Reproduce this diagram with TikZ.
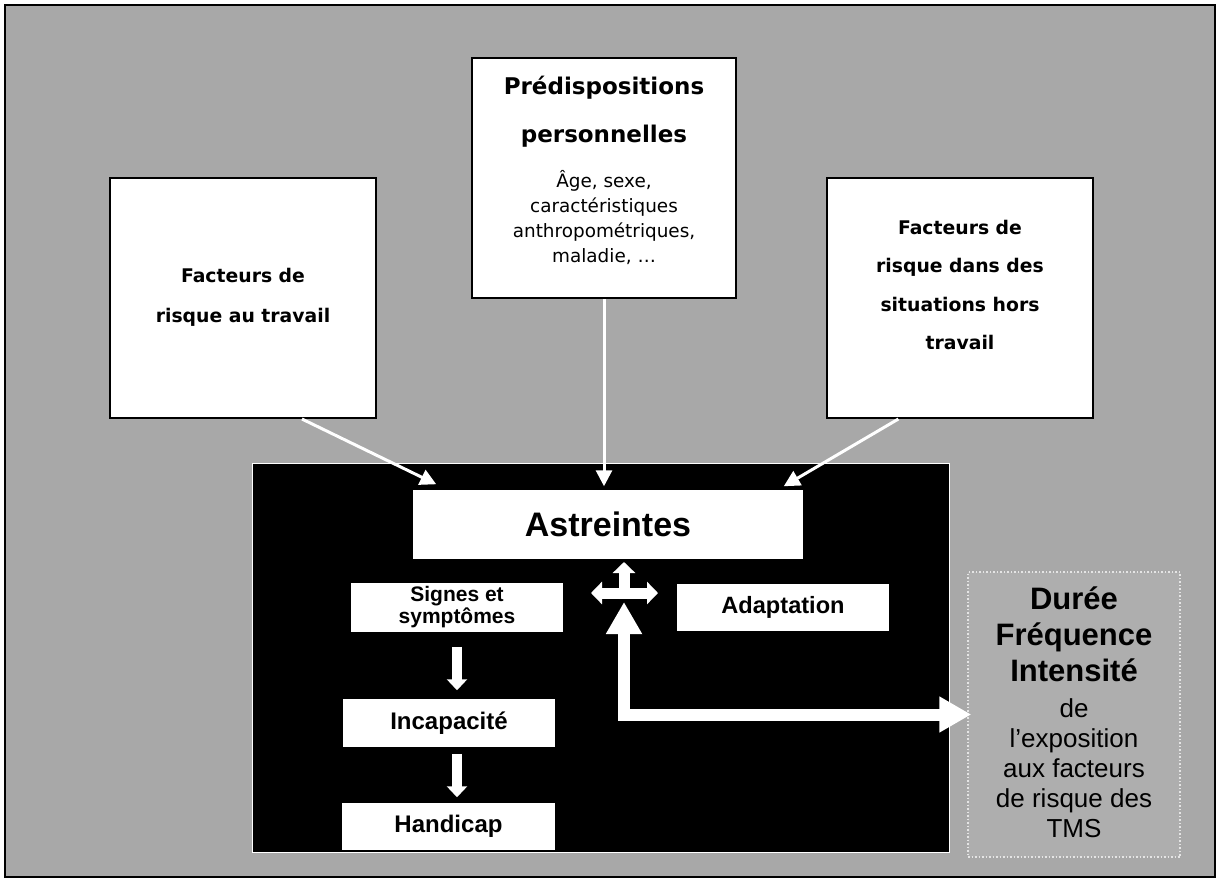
\documentclass[tikz,border=0pt]{standalone}
\usepackage{fontspec}
\setmainfont{Liberation Sans}
\newfontfamily\tahoma{DejaVu Sans}
\usetikzlibrary{arrows.meta,calc}

\definecolor{bggray}{RGB}{168,168,168}
\definecolor{panelgray}{RGB}{174,174,174}

\tikzset{every picture/.style={line width=0.75pt}}
\tikzset{
    factorbox/.style={draw=black, line width=1pt, fill=white, align=center, inner sep=2pt},
    strainbox/.style={fill=white, align=center, inner sep=0pt},
    thinarrow/.style={draw=white, line width=1.5pt, -{Triangle[length=8pt,width=8pt]}},
    blockarrow/.style={draw=white, line width=5pt, -{Triangle[length=5.5pt,width=10pt]}},
    crossarrow/.style={draw=white, line width=5.5pt},
    bigarrow/.style={draw=white, line width=6pt, line join=miter,
        {Triangle[length=16pt,width=17pt]}-{Triangle[length=16pt,width=17pt]}},
    exposure/.style={fill=panelgray, draw=white!80!gray, densely dotted, line width=0.75pt, align=center}
}

\begin{document}
\begin{tikzpicture}[x=0.5pt,y=-0.5pt]
        \useasboundingbox (0,0) rectangle (1225,882);
        \fill[white] (0,0) rectangle (1225,882);
        \draw[line width=1pt, fill=bggray] (5,5) rectangle (1215,877);
        \node[factorbox, minimum width=133pt, minimum height=120pt, font=\tahoma\bfseries\fontsize{9.4}{20}\selectfont] (work) at (243,298) {Facteurs de\\risque au travail\\[-17pt]\mbox{}};
        \node[factorbox, minimum width=132pt, minimum height=120pt, font=\tahoma\fontsize{9.2}{12.5}\selectfont] (perso) at (604,178)
            {{\bfseries\fontsize{11.5}{12.5}\selectfont Prédispositions}\\[11.5pt]{\bfseries\fontsize{11.5}{12.5}\selectfont personnelles}\\[10pt]Âge, sexe,\\caractéristiques\\anthropométriques,\\maladie, \dots\\[-4pt]\mbox{}};
        \node[factorbox, minimum width=133pt, minimum height=120pt, font=\tahoma\bfseries\fontsize{9.4}{19.2}\selectfont] (hors) at (960,298) {Facteurs de\\risque dans des\\situations hors\\travail\\[-6pt]\mbox{}};
        \fill[black] (252,463) rectangle (949,852);
        \draw[white, line width=0.5pt] (252,463) rectangle (949,852);
        \node[strainbox, minimum width=195pt, minimum height=34.5pt, font=\bfseries\fontsize{17}{19}\selectfont] (astr) at (608,524.5) {Astreintes};
        \node[strainbox, minimum width=106pt, minimum height=24.5pt, font=\bfseries\fontsize{10.5}{11}\selectfont] (signes) at (457,607.5) {Signes et\\symptômes};
        \node[strainbox, minimum width=106pt, minimum height=23.5pt, font=\bfseries\fontsize{11.8}{13}\selectfont] (adapt) at (783,607.5) {Adaptation};
        \node[strainbox, minimum width=106pt, minimum height=24pt, font=\bfseries\fontsize{12}{14}\selectfont] (incap) at (449,723) {Incapacité};
        \node[strainbox, minimum width=106.5pt, minimum height=23.5pt, font=\bfseries\fontsize{12}{14}\selectfont] (handi) at (448.5,826.5) {Handicap};
        \node[exposure, minimum width=106pt, minimum height=142.5pt, font=\fontsize{13}{18}\selectfont] (panel) at (1074,714.5)
            {{\bfseries\fontsize{15.5}{18}\selectfont Durée}\\{\bfseries\fontsize{15.5}{18}\selectfont Fréquence}\\{\bfseries\fontsize{15.5}{18}\selectfont Intensité}\\de\\[-3pt]l'exposition\\[-3pt]aux facteurs\\[-3pt]de risque des\\[-3pt]TMS\\[-16pt]\mbox{}};
        \draw[thinarrow] ($(work.south west)!0.72!(work.south east)$) -- ($(astr.north west)+(24,-5)$);
        \draw[thinarrow] (perso.south) -- ($(astr.north -| perso.south)+(0,-3)$);
        \draw[thinarrow] ($(hors.south west)!0.27!(hors.south east)$) -- ($(astr.north east)+(-20,-3)$);
        \draw[blockarrow, shorten <=7pt, shorten >=4pt] (signes.south) -- (signes.south |- incap.north);
        \draw[blockarrow, shorten <=3pt, shorten >=2.5pt] (incap.south -| signes.south) -- (handi.north -| signes.south);
        \coordinate (cross) at (624,593);
        \coordinate (crossfoot) at ($(cross)+(0,9)$);
        \draw[crossarrow, {Triangle[length=5.5pt,width=11pt]}-{Triangle[length=5.5pt,width=11pt]}] ($(cross)+(-33,0)$) -- ($(cross)+(34,0)$);
        \draw[crossarrow, -{Triangle[length=5.5pt,width=11pt]}] ($(cross)+(0,6)$) -- ($(cross)+(0,-31)$);
        \draw[bigarrow] (crossfoot) |- ($(panel.west)+(4,0)$);
    \end{tikzpicture}
\end{document}
